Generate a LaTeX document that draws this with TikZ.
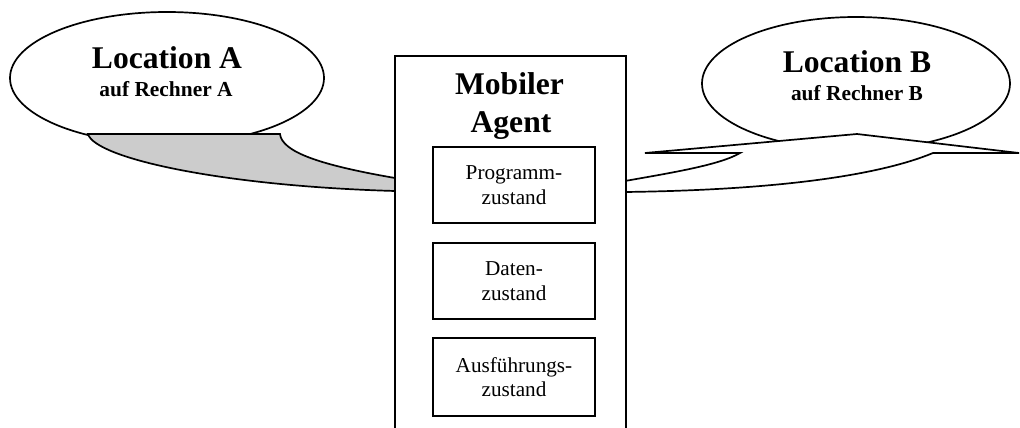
\documentclass[tikz,border=0pt]{standalone}
\usepackage{fontspec}
\setmainfont{Liberation Serif}
\usetikzlibrary{shapes.geometric}

\tikzset{
  outline/.style={draw=black, line width=1.7pt},
  place/.style={outline, ellipse, fill=white, inner sep=0pt},
  bigtitle/.style={font=\bfseries\fontsize{31.6}{34}\selectfont, anchor=base, inner sep=0pt},
  subtitle/.style={font=\bfseries\fontsize{21.4}{24}\selectfont, anchor=base, inner sep=0pt},
  agentbox/.style={outline, fill=white, inner sep=0pt, anchor=north},
  statebox/.style={outline, fill=white, minimum width=162pt, inner sep=0pt,
    align=center, font=\fontsize{21.2}{24.5}\selectfont},
}

\begin{document}
\begin{tikzpicture}[x=1pt,y=-1pt]
\useasboundingbox (0,0) rectangle (1020,428);
\fill[white] (0,0) rectangle (1020,428);
\begin{scope}
\clip (0,0) rectangle (1020,428);

% Location A with its shaded speech tail
\node[place, minimum width=314pt, minimum height=132pt] (locA) at (167,78) {};
\path[outline, fill=black!20] (395,178) .. controls (320,165) and (282,152) .. (280,134)
  -- (88,134) .. controls (95,158) and (220,186) .. (395,191);
\node[bigtitle] (locAtitle) at (167,68) {Location A};
\node[subtitle] (locAsub) at (166,96) {auf Rechner A};

% Location B with its open speech tail
\node[place, minimum width=308pt, minimum height=133pt] (locB) at (856,83.5) {};
\path[outline, fill=white] (625,181) .. controls (670,173) and (720,165) .. (740,153)
  -- (645,153) -- (857,134) -- (1019,153) -- (933,153)
  .. controls (880,175) and (780,190) .. (625,192);
\node[bigtitle] (locBtitle) at (857,73) {Location B};
\node[subtitle] (locBsub) at (857,100.5) {auf Rechner B};

% The mobile agent and its three parts
\node[agentbox, minimum width=231pt, minimum height=420pt] (agent) at (510.5,55) {};
\node[bigtitle] (agentl1) at (509.5,95) {Mobiler};
\node[bigtitle] (agentl2) at (511,132.5) {Agent};
\node[statebox, minimum height=76pt] (prog) at (514,185) {Programm-\\zustand};
\node[statebox, minimum height=76pt] (daten) at (514,281) {Daten-\\zustand};
\node[statebox, minimum height=78pt] (ausf) at (514,377) {Ausführungs-\\zustand};
\end{scope}
\end{tikzpicture}
\end{document}
